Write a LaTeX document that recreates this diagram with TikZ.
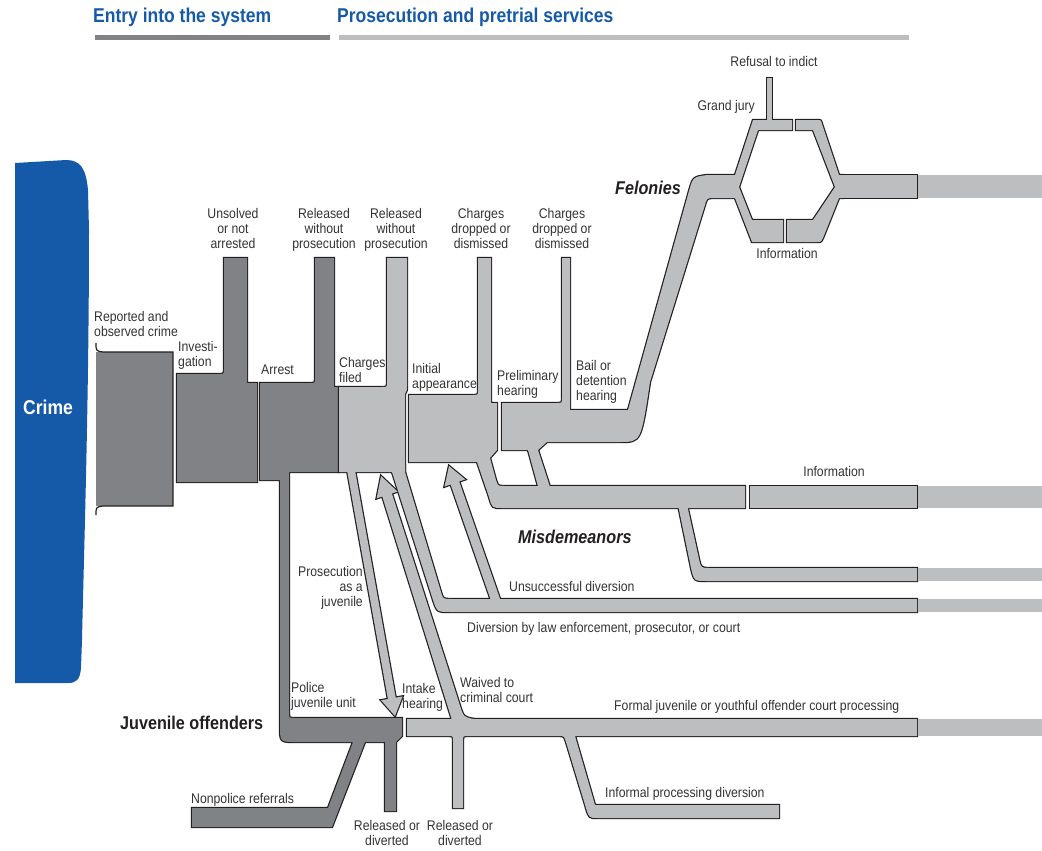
\documentclass[tikz,border=0pt]{standalone}
\usepackage{fontspec}
\setmainfont[FakeStretch=0.875]{Liberation Sans}
\definecolor{dg}{HTML}{808285}
\definecolor{lg}{HTML}{BCBEC0}
\definecolor{ol}{HTML}{231F20}
\definecolor{blu}{HTML}{155AA8}
\definecolor{txt}{HTML}{333333}
\newcommand\darkgroup[1]{%
 \path[#1] (177,374) -- (219,374) .. controls (224,374) .. (224,369) -- (224,258) -- (247,258) -- (247,383) -- (257,383) -- (257,482) -- (177,482) -- cycle;
 \path[#1] (260,383) -- (310,383) .. controls (315,383) .. (315,378) -- (315,258) -- (334,258) -- (334,387) -- (339,387) -- (339,472) -- (289,472) -- (289,713) .. controls (289,718) .. (294,718) -- (402,718) -- (402,736) -- (396,742) -- (396,811) -- (385,811) -- (385,742) -- (365,742) -- (332,827) -- (192,827) -- (192,808) -- (328,808) -- (353,742) -- (296,742) .. controls (280,742) .. (280,726) -- (280,480) -- (260,480) -- cycle;
}
\newcommand\lightgroup[1]{%
 \path[#1] (339,387) -- (382,387) .. controls (387,387) .. (387,382) -- (387,258) -- (407,258) -- (407,387) .. controls (407,390) .. (405,394) -- (405,472) -- (339,472) -- cycle;
 \path[#1] (346.1,465) -- (387.9,699.0) -- (381.0,700.2) -- (395,716) -- (402.6,696.4) -- (395.7,697.6) -- (354.1,465) -- cycle;
 \path[#1] (392,465) -- (405,465) -- (405,472) -- (441,592) .. controls (443,599) .. (452,599) -- (917,599) -- (917,612) -- (450,612) .. controls (437,612) .. (433,600) -- (392,472) -- cycle;
 \path[#1] (492.7,605.5) -- (450.6,484.5) -- (444.5,486.6) -- (449,466) -- (465.3,479.4) -- (459.2,481.5) -- (501.3,602.5) -- cycle;
 \path[#1] (453.5,725) -- (382.3,496.5) -- (376.6,498.4) -- (381,476) -- (397.6,491.6) -- (391.9,493.5) -- (459.8,705) .. controls (463.6,717) .. (474,719) -- (474,725) -- cycle;
 \path[#1] (407,719) -- (917,719) -- (917,736) -- (575,736) -- (595,805) -- (779,805) -- (779,818) -- (598,818) .. controls (589,818) .. (586,808) -- (566,742) .. controls (564,736) .. (559,736) -- (468,736) .. controls (463,736) .. (463,741) -- (463,808) -- (453,808) -- (453,741) .. controls (453,736) .. (448,736) -- (407,736) -- cycle;
 \path[#1] (409,395) -- (473,395) .. controls (478,395) .. (478,390) -- (478,258) -- (491,258) -- (491,403) -- (497,403) -- (497,450) -- (490,458) -- (496,480) .. controls (498,486) .. (504,486) -- (745,486) -- (745,508) -- (502,508) .. controls (492,508) .. (489,497) -- (477,462) -- (409,462) -- cycle;
 \path[#1] (677,500) -- (686,500) -- (699,559) .. controls (701,568) .. (710,568) -- (917,568) -- (917,581) -- (707,581) .. controls (694,581) .. (691,568) -- cycle;
 \path[#1] (750,486) rectangle (917,508);
 \path[#1] (502,403) -- (557,403) .. controls (562,403) .. (562,398) -- (562,258) -- (570,258) -- (570,410) -- (628,410) -- (689,191) .. controls (693,177) .. (707,175) -- (737,175) -- (737,198) -- (714,198) .. controls (707,198) .. (705,205) -- (650,382) .. controls (641,442) .. (620,442) -- (547,442) -- (538,450) -- (551,490) -- (539,490) -- (528,450) -- (502,450) -- cycle;
 \path[#1] (735,175) -- (753,120) -- (792,120) -- (792,130) -- (758,130) -- (739,187) -- (735,187) -- cycle;
 \path[#1] (735,187) -- (739,187) -- (752,220) -- (783,220) -- (783,242) -- (752,242) -- (735,198) -- cycle;
 \path[#1] (767,78) rectangle (772,122);
 \path[#1] (796,120) -- (817,120) .. controls (821,120) .. (822,124) -- (839,175) -- (843,175) -- (843,187) -- (835,187) -- (813,130) -- (796,130) -- cycle;
 \path[#1] (787,220) -- (813,220) -- (835,187) -- (843,187) -- (843,198) -- (839,198) -- (823,238) .. controls (821,242) .. (817,242) -- (787,242) -- cycle;
 \path[#1] (839,175) rectangle (917,198);
}
\begin{document}
\begin{tikzpicture}[x=1pt,y=-1pt,
  lbl/.style={font=\fontsize{14}{15}\selectfont, text=txt, inner sep=0pt, align=center},
  lblL/.style={lbl, align=left},
  big/.style={font=\fontsize{18.5}{20}\selectfont\bfseries, text=ol, inner sep=0pt},
  hdr/.style={font=\fontsize{20}{22}\selectfont\bfseries, text=blu, inner sep=0pt, anchor=north west},
  outl/.style={draw=ol, line width=2.4pt}]
\useasboundingbox (0,0) rectangle (1042,851);
% headers
\node[hdr] (h1) at (93,8) {Entry into the system};
\node[hdr] (h2) at (337,8) {Prosecution and pretrial services};
\fill[dg] (95,35) rectangle (330,40.5);
\fill[lg] (339,35) rectangle (909,40.5);
% crime blob
\fill[blu] (15,163) -- (66,160) .. controls (80,160) and (86,168) .. (88,190) -- (89,230) .. controls (89,400) and (84,550) .. (82,640) -- (81,668) .. controls (80,680) and (76,683) .. (68,683) -- (15,683) -- cycle;
\node[font=\fontsize{20}{22}\selectfont\bfseries, text=white, inner sep=0pt] (crime) at (48,407) {Crime};
% dark group
\darkgroup{outl}
\darkgroup{fill=dg}
\fill[dg] (96,352) rectangle (173,506);
\draw[ol, line width=1.2pt] (96,343) .. controls (96,351) .. (103,352) -- (173,352) -- (173,506) -- (103,506) .. controls (96,507) .. (96,515);
% light group
\lightgroup{outl}
\lightgroup{fill=lg}
\fill[lg] (918.2,175) rectangle (1042,198);
\fill[lg] (918.2,486) rectangle (1042,508);
\fill[lg] (918.2,568) rectangle (1042,581);
\fill[lg] (918.2,599) rectangle (1042,612);
\fill[lg] (918.2,719) rectangle (1042,736);
% labels
\node[lbl, anchor=north] (unsolved) at (233,208) {Unsolved\\or not\\arrested};
\node[lbl, anchor=north] (relA) at (324,208) {Released\\without\\prosecution};
\node[lbl, anchor=north] (relB) at (396,208) {Released\\without\\prosecution};
\node[lbl, anchor=north] (dropA) at (481,208) {Charges\\dropped or\\dismissed};
\node[lbl, anchor=north] (dropB) at (562,208) {Charges\\dropped or\\dismissed};
\node[lblL, anchor=north west] (reported) at (94,311) {Reported and\\observed crime};
\node[lblL, anchor=north west] (invest) at (178,341) {Investi-\\gation};
\node[lblL, anchor=north west] (arrest) at (261,365) {Arrest};
\node[lblL, anchor=north west] (filed) at (339,357) {Charges\\filed};
\node[lblL, anchor=north west] (initial) at (412,363) {Initial\\appearance};
\node[lblL, anchor=north west] (prelim) at (497,370) {Preliminary\\hearing};
\node[lblL, anchor=north west] (bail) at (576,360) {Bail or\\detention\\hearing};
\node[lbl, anchor=north] (refusal) at (774,56) {Refusal to indict};
\node[lbl, anchor=north east] (gjury) at (755,100) {Grand jury};
\node[big, anchor=north east] (felonies) at (681,181) {\itshape Felonies};
\node[lbl, anchor=north] (infoA) at (787,248) {Information};
\node[lbl, anchor=north] (infoB) at (834,466) {Information};
\node[big, anchor=north west] (misd) at (518,530) {\itshape Misdemeanors};
\node[lblL, anchor=north west] (unsucc) at (509,581) {Unsuccessful diversion};
\node[lblL, anchor=north west] (divert) at (467,622) {Diversion by law enforcement, prosecutor, or court};
\node[lbl, align=right, anchor=north east] (prosjuv) at (363,566) {Prosecution\\as a\\juvenile};
\node[lblL, anchor=north west] (police) at (291,682) {Police\\juvenile unit};
\node[lblL, anchor=north west] (intake) at (402,683) {Intake\\hearing};
\node[lblL, anchor=north west] (waived) at (460,677) {Waived to\\criminal court};
\node[lblL, anchor=north west] (formal) at (614,700) {Formal juvenile or youthful offender court processing};
\node[lblL, anchor=north west] (informal) at (605,787) {Informal processing diversion};
\node[lblL, anchor=north west] (nonpolice) at (191,793) {Nonpolice referrals};
\node[lbl, anchor=north] (relC) at (387,820) {Released or\\diverted};
\node[lbl, anchor=north] (relD) at (460,820) {Released or\\diverted};
\node[big, anchor=north west] (juv) at (120,716) {Juvenile offenders};
\end{tikzpicture}
\end{document}
